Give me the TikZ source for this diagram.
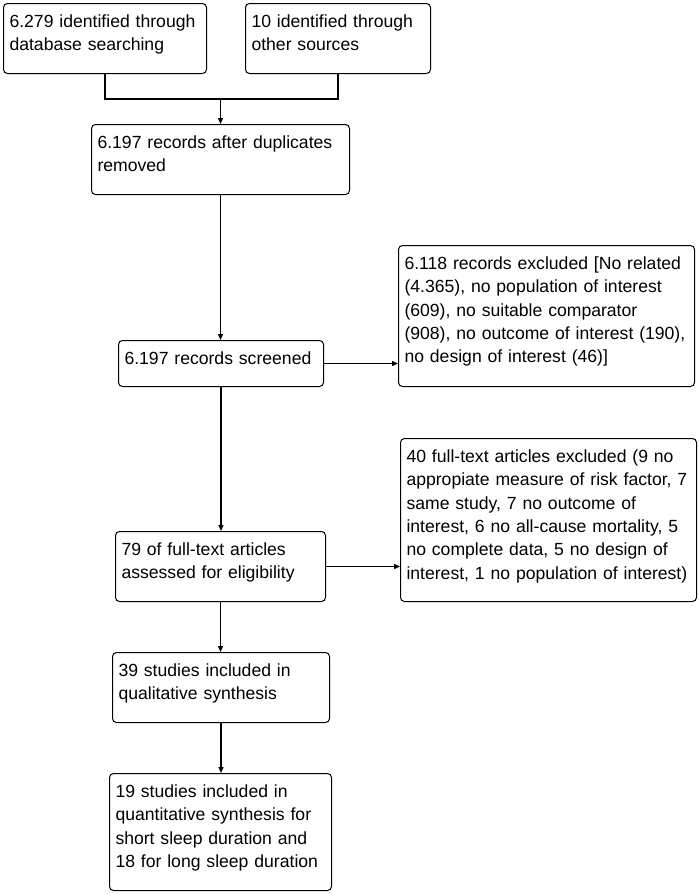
\documentclass[tikz,border=0pt]{standalone}
\usepackage{fontspec}
\setmainfont{Liberation Sans}
\usetikzlibrary{arrows.meta}

\tikzset{
  box/.style={draw, line width=1pt, rounded corners=4pt, anchor=north west,
    inner xsep=6pt, inner ysep=0pt, align=left, text height=24pt,
    font=\fontsize{17.6}{23.3}\selectfont},
  link/.style={line width=1.3pt},
  arr/.style={line width=1.3pt, -{Triangle[length=6pt,width=5pt]}}
}

\begin{document}
\begin{tikzpicture}[x=1pt,y=-1pt]
\useasboundingbox (0,0) rectangle (700,894);

%% boxes
\node[box, text width=191pt, text depth=46pt] (dbsearch) at (3,3) {6.279 identified through\\database searching};
\node[box, text width=173pt, text depth=46pt] (othersrc) at (245,3) {10 identified through\\other sources};
\node[box, text width=246pt, text depth=46pt] (nodup) at (91,124) {6.197 records after duplicates\\removed};
\node[box, text width=193pt, text depth=22pt] (screened) at (118,340) {6.197 records screened};
\node[box, text width=284pt, text depth=117pt] (excl) at (398,245) {6.118 records excluded [No related\\(4.365), no population of interest\\(609), no suitable comparator\\(908), no outcome of interest (190),\\no design of interest (46)]};
\node[box, text width=198pt, text depth=46pt] (fulltext) at (115,531) {79 of full-text articles\\assessed for eligibility};
\node[box, text width=284pt, text depth=139pt] (ftexcl) at (400,438) {40 full-text articles excluded (9 no\\appropiate measure of risk factor, 7\\same study, 7 no outcome of\\interest, 6 no all-cause mortality, 5\\no complete data, 5 no design of\\interest, 1 no population of interest)};
\node[box, text width=205pt, text depth=46pt] (qual) at (112,652) {39 studies included in\\qualitative synthesis};
\node[box, text width=210pt, text depth=93pt] (quant) at (109,773) {19 studies included in\\quantitative synthesis for\\short sleep duration and\\18 for long sleep duration};

%%% edges
\coordinate (join) at (nodup.north |- 0,99);
\draw[link] (dbsearch.south) |- (join) -| (othersrc.south);
\draw[arr] (join) -- (nodup.north);
\draw[arr] (nodup.south) -- (nodup.south |- screened.north);
\draw[arr] (screened.east) -- (screened.east -| excl.west);
\draw[arr] (screened.south) -- (screened.south |- fulltext.north);
\draw[arr] (fulltext.east) -- (fulltext.east -| ftexcl.west);
\draw[arr] (fulltext.south) -- (fulltext.south |- qual.north);
\draw[arr] (qual.south) -- (qual.south |- quant.north);

\end{tikzpicture}
\end{document}
